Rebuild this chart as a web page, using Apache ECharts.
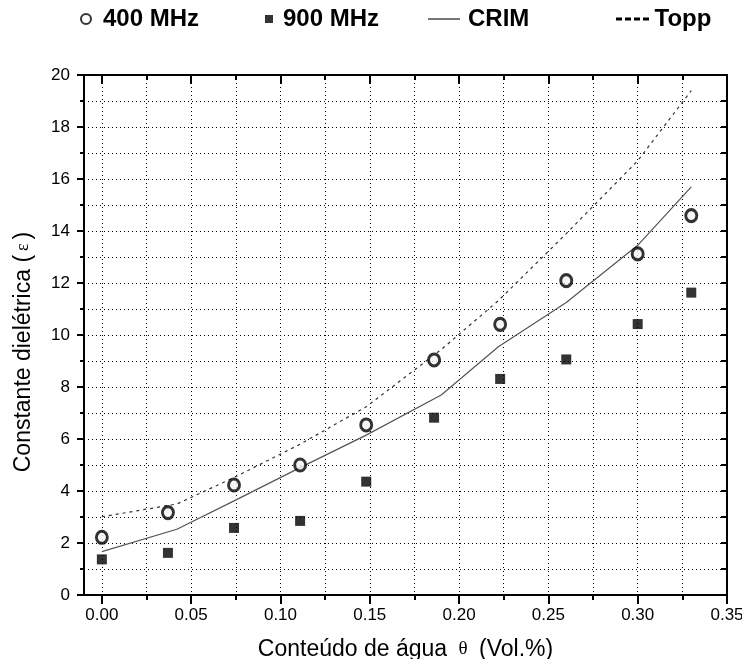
<!DOCTYPE html>
<html>
<head>
<meta charset="utf-8">
<script src="https://cdn.jsdelivr.net/npm/echarts@6/dist/echarts.min.js"></script>
<style>
html,body{margin:0;padding:0;background:#fff;}
#chart{width:742px;height:659px;}
</style>
</head>
<body>
<div id="chart"></div>
<script>
// ---- data ----
const thetaMeasured = [0, 0.037, 0.074, 0.111, 0.148, 0.186, 0.223, 0.260, 0.300, 0.330];
const eps400 = [2.22, 3.17, 4.23, 5.00, 6.54, 9.04, 10.41, 12.09, 13.12, 14.59];
const eps900 = [1.37, 1.62, 2.58, 2.85, 4.36, 6.82, 8.31, 9.06, 10.42, 11.63];
const thetaModel = [0, 0.042, 0.074, 0.111, 0.148, 0.190, 0.222, 0.260, 0.300, 0.330];
const epsCRIM = [1.67, 2.53, 3.62, 4.90, 6.15, 7.69, 9.55, 11.25, 13.45, 15.70];
const epsTopp = [3.01, 3.50, 4.52, 5.80, 7.24, 9.44, 11.32, 13.90, 16.70, 19.40];
const xMajorTicks = [0, 0.05, 0.10, 0.15, 0.20, 0.25, 0.30, 0.35];
const xMinorTicks = [0.025, 0.075, 0.125, 0.175, 0.225, 0.275, 0.325];
const seriesNames = ['400 MHz', '900 MHz', 'CRIM', 'Topp'];
const xTitle = 'Conteúdo de água {s|θ} (Vol.%)';
const yTitle = 'Constante dielétrica ({s|ε})';

const FONT = 'Liberation Sans, Arial, sans-serif';
const pairs = (xs, ys) => xs.map((x, i) => [x, ys[i]]);

const dotted = { type: [1, 3], color: '#000', width: 1 };
const baseX = { type: 'value', gridIndex: 0, min: -0.01, max: 0.35 };

const legendText = (pad) => ({ fontFamily: FONT, fontSize: 24, fontWeight: 'bold', color: '#000', lineHeight: 26, padding: [0, 0, 0, pad] });

const option = {
  backgroundColor: '#fff',
  animation: false,
  grid: { left: 84, right: 15, top: 75, bottom: 64, containLabel: false, outerBoundsMode: 'none' },
  legend: [
    { left: 80, top: 6, padding: 0, itemWidth: 10, itemHeight: 10, textStyle: legendText(7),
      data: [{ name: seriesNames[0], icon: 'circle', itemStyle: { color: '#fff', borderColor: '#000', borderWidth: 2 } }] },
    { left: 265, top: 6, padding: 0, itemWidth: 8, itemHeight: 8, textStyle: legendText(5),
      data: [{ name: seriesNames[1], icon: 'rect', itemStyle: { color: '#000', borderWidth: 0 } }] },
    { left: 428, top: 6, padding: 0, itemWidth: 32, itemHeight: 2, textStyle: legendText(3),
      data: [{ name: seriesNames[2], icon: 'path://M0,0h32v2h-32z', itemStyle: { color: '#777', borderWidth: 0 } }] },
    { left: 616, top: 6, padding: 0, itemWidth: 34, itemHeight: 3, textStyle: legendText(0),
      data: [{ name: seriesNames[3], icon: 'path://M0,0h6v3h-6z M9,0h6v3h-6z M18,0h6v3h-6z M27,0h6v3h-6z', itemStyle: { color: '#000', borderWidth: 0 } }] }
  ],
  xAxis: [
    Object.assign({}, baseX, {
      position: 'bottom',
      axisLine: { show: true, onZero: false, lineStyle: { color: '#000', width: 2 } },
      axisTick: { show: true, customValues: xMajorTicks, length: 9, lineStyle: { color: '#000', width: 2 } },
      axisLabel: { show: true, customValues: xMajorTicks, formatter: v => v.toFixed(2), fontFamily: FONT, fontSize: 17, color: '#000', margin: 12 },
      splitLine: { show: true, lineStyle: dotted },
      name: xTitle, nameLocation: 'middle', nameGap: 43,
      nameTextStyle: { fontFamily: FONT, fontSize: 23, color: '#000', rich: { s: { fontFamily: 'Liberation Serif, serif', fontSize: 19, color: '#000', padding: [0, 5, 0, 5] } } }
    }),
    Object.assign({}, baseX, {
      position: 'bottom',
      axisLine: { show: false, onZero: false },
      axisTick: { show: true, customValues: xMinorTicks, length: 5, lineStyle: { color: '#000', width: 2 } },
      axisLabel: { show: false },
      splitLine: { show: true, lineStyle: dotted }
    }),
    Object.assign({}, baseX, {
      position: 'top',
      axisLine: { show: true, onZero: false, lineStyle: { color: '#000', width: 2 } },
      axisTick: { show: true, inside: true, customValues: xMajorTicks, length: 9, lineStyle: { color: '#000', width: 2 } },
      axisLabel: { show: false },
      splitLine: { show: false }
    }),
    Object.assign({}, baseX, {
      position: 'top',
      axisLine: { show: false, onZero: false },
      axisTick: { show: true, inside: true, customValues: xMinorTicks, length: 5, lineStyle: { color: '#000', width: 2 } },
      axisLabel: { show: false },
      splitLine: { show: false }
    })
  ],
  yAxis: [
    {
      type: 'value', position: 'left', min: 0, max: 20, interval: 2,
      axisLine: { show: true, onZero: false, lineStyle: { color: '#000', width: 2 } },
      axisTick: { show: true, length: 7, lineStyle: { color: '#000', width: 2 } },
      minorTick: { show: true, splitNumber: 2, length: 4, lineStyle: { color: '#000', width: 2 } },
      axisLabel: { fontFamily: FONT, fontSize: 17, color: '#000', margin: 14 },
      splitLine: { show: true, lineStyle: dotted },
      minorSplitLine: { show: true, lineStyle: dotted },
      name: yTitle, nameLocation: 'middle', nameGap: 49,
      nameTextStyle: { fontFamily: FONT, fontSize: 23, color: '#000', padding: [0, 34, 0, 0],
        rich: { s: { fontFamily: 'Liberation Serif, serif', fontSize: 18, color: '#000', padding: [0, 4, 0, 4] } } }
    },
    {
      type: 'value', position: 'right', min: 0, max: 20, interval: 2,
      axisLine: { show: true, onZero: false, lineStyle: { color: '#000', width: 2 } },
      axisTick: { show: true, inside: true, length: 6, lineStyle: { color: '#000', width: 2 } },
      minorTick: { show: true, splitNumber: 2, length: 6, lineStyle: { color: '#000', width: 2 } },
      axisLabel: { show: false },
      splitLine: { show: false }
    }
  ],
  series: [
    { name: seriesNames[2], type: 'line', xAxisIndex: 0, yAxisIndex: 0, data: pairs(thetaModel, epsCRIM),
      symbol: 'none', lineStyle: { color: '#555', width: 1.2 }, itemStyle: { color: '#777' }, z: 3 },
    { name: seriesNames[3], type: 'line', xAxisIndex: 0, yAxisIndex: 0, data: pairs(thetaModel, epsTopp),
      symbol: 'none', lineStyle: { color: '#333', width: 1.2, type: [3, 4] }, itemStyle: { color: '#000' }, z: 3 },
    { name: seriesNames[1], type: 'scatter', xAxisIndex: 0, yAxisIndex: 0, data: pairs(thetaMeasured, eps900),
      symbol: 'rect', symbolSize: 10, itemStyle: { color: '#000' }, z: 4 },
    { name: seriesNames[0], type: 'scatter', xAxisIndex: 0, yAxisIndex: 0, data: pairs(thetaMeasured, eps400),
      symbol: 'circle', symbolSize: [11, 12], itemStyle: { color: '#f2f2f2', borderColor: '#000', borderWidth: 3 }, z: 5 }
  ]
};

const chart = echarts.init(document.getElementById('chart'), null, { renderer: 'canvas' });
chart.setOption(option);
</script>
</body>
</html>
